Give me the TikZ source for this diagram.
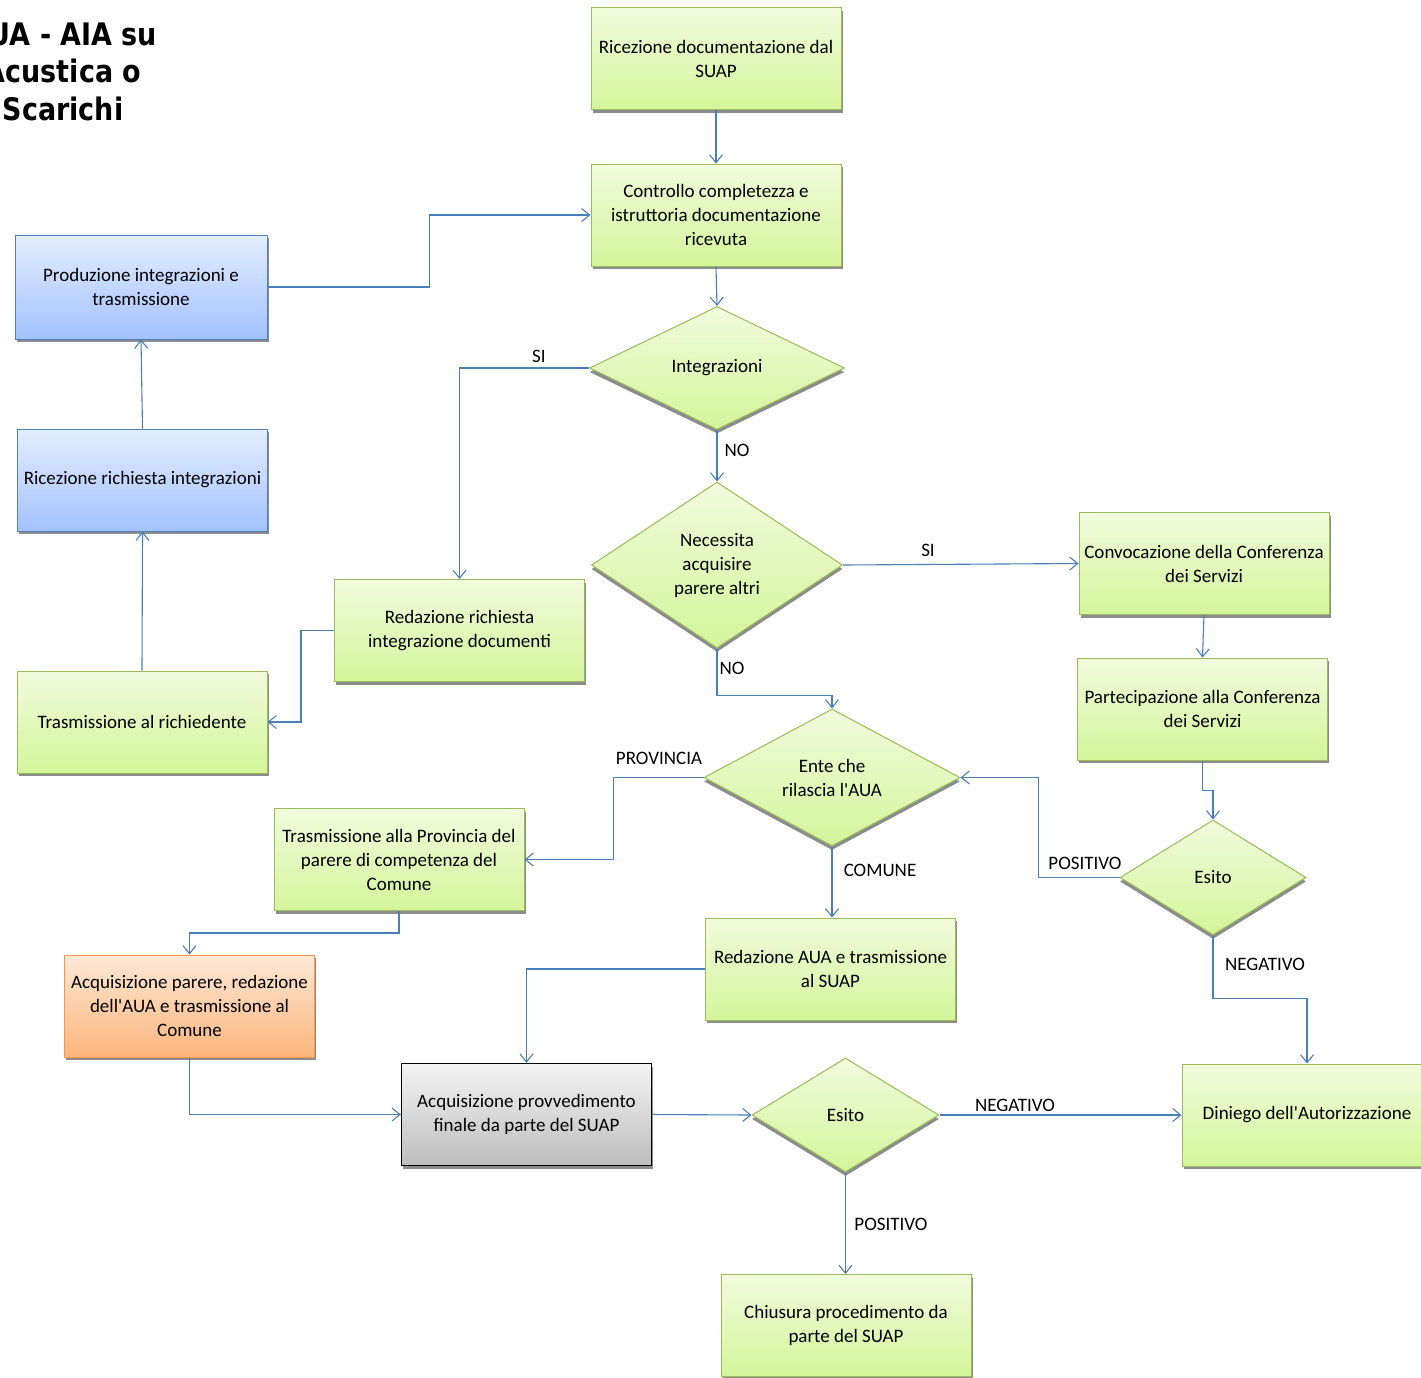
\documentclass[tikz,border=0pt]{standalone}
\usepackage{fontspec}
\setmainfont{Carlito}
\newfontfamily\titlefont[FakeStretch=0.87]{DejaVu Sans}
\usetikzlibrary{shapes.geometric,arrows.meta,shadows,calc}
\definecolor{grnborder}{HTML}{9BBB59}
\definecolor{grntop}{HTML}{F1FBDD}
\definecolor{grnbot}{HTML}{D3F59A}
\definecolor{bluborder}{HTML}{4F81BD}
\definecolor{blutop}{HTML}{E3EDFF}
\definecolor{blubot}{HTML}{A4C2FF}
\definecolor{orgborder}{HTML}{F79646}
\definecolor{orgtop}{HTML}{FDE8D6}
\definecolor{orgbot}{HTML}{FBB57C}
\definecolor{grytop}{HTML}{F4F4F4}
\definecolor{grybot}{HTML}{BDBDBD}
\definecolor{lineblue}{HTML}{4A7EBB}
\definecolor{shadowgray}{HTML}{8C8C8C}
\newcommand{\apo}{\textquotesingle}
\tikzset{
  basebox/.style={rectangle, minimum width=250pt, minimum height=102pt, inner sep=2pt,
    align=center, line width=1pt,
    drop shadow={shadow xshift=1.5pt, shadow yshift=-3pt, fill=shadowgray, opacity=1}},
  greenbox/.style={basebox, draw=grnborder, top color=grntop, bottom color=grnbot},
  bluebox/.style={basebox, draw=bluborder, top color=blutop, bottom color=blubot},
  orangebox/.style={basebox, draw=orgborder, top color=orgtop, bottom color=orgbot},
  graybox/.style={basebox, draw=black, line width=1.3pt, top color=grytop, bottom color=grybot},
  decision/.style={diamond, inner sep=0pt, align=center, draw=grnborder, line width=1pt,
    top color=grntop, bottom color=grnbot,
    drop shadow={shadow xshift=0pt, shadow yshift=-4pt, fill=shadowgray, opacity=1}},
  conn/.style={draw=lineblue, line width=1.1pt, -{Straight Barb[length=8pt,width=13pt]}},
  lbl/.style={inner sep=0pt}
}
\begin{document}
\begin{tikzpicture}[x=1pt,y=-1pt,font=\fontsize{19}{24}\selectfont]
\useasboundingbox (0,0) rectangle (1421,1377);
\fill[white] (0,0) rectangle (1421,1377);

% title
\node[inner sep=0pt, align=center, anchor=base, font=\titlefont\bfseries\fontsize{31}{37.5}\selectfont] (title) at (63,120) {AUA - AIA su\\Acustica o\\Scarichi};

% boxes
\node[greenbox] (ricsuap) at (716,58.5) {Ricezione documentazione dal\\SUAP};
\node[greenbox] (ctrl) at (716,215) {Controllo completezza e\\istruttoria documentazione\\ricevuta};
\node[decision, minimum width=255pt, minimum height=123pt] (integr) at (717,368) {Integrazioni};
\node[decision, minimum width=251pt, minimum height=166pt] (neces) at (717,565) {Necessita\\acquisire\\parere altri};
\node[greenbox] (conv) at (1204,563.5) {Convocazione della Conferenza\\dei Servizi};
\node[greenbox] (part) at (1202.5,709) {Partecipazione alla Conferenza\\dei Servizi};
\node[decision, minimum width=186pt, minimum height=115pt] (esitor) at (1213,877.5) {Esito};
\node[decision, minimum width=256pt, minimum height=129pt] (ente) at (832,777.5) {Ente che\\rilascia l\apo AUA};
\node[greenbox] (tprov) at (399,859.5) {Trasmissione alla Provincia del\\parere di competenza del\\Comune};
\node[greenbox] (redaua) at (830.5,969) {Redazione AUA e trasmissione\\al SUAP};
\node[orangebox] (acqpar) at (189.5,1006) {Acquisizione parere, redazione\\dell\apo AUA e trasmissione al\\Comune};
\node[graybox] (finale) at (526.5,1114.5) {Acquisizione provvedimento\\finale da parte del SUAP};
\node[decision, minimum width=187pt, minimum height=114pt] (esitob) at (845.5,1115) {Esito};
\node[greenbox] (diniego) at (1307,1115) {Diniego dell\apo Autorizzazione};
\node[greenbox] (chius) at (846,1325.5) {Chiusura procedimento da\\parte del SUAP};
\node[greenbox] (redrich) at (459.5,630.5) {Redazione richiesta\\integrazione documenti};
\node[greenbox] (trasm) at (142,722) {Trasmissione al richiedente};
\node[bluebox] (ricint) at (142.5,480) {Ricezione richiesta integrazioni};
\node[bluebox, minimum width=252pt, minimum height=104pt] (prod) at (141,287) {Produzione integrazioni e\\trasmissione};

% connectors
\draw[conn] (ricsuap.south) -- (ctrl.north);
\draw[conn] (ctrl.south) -- (integr.north);
\draw[conn] (prod.east) -- ++(162,0) |- (ctrl.west);
\draw[conn] (integr.west) -| (redrich.north);
\draw[conn] (integr.south) -- (neces.north);
\draw[conn] (neces.east) -- (conv.west);
\draw[conn] (neces.south) -- ++(0,47) -| (ente.north);
\draw[conn] (conv.south) -- (part.north);
\draw[conn] (part.south) -- ++(0,30) -| (esitor.north);
\draw[conn] (esitor.west) -- ++(-81,0) |- (ente.east);
\draw[conn] (esitor.south) -- ++(0,63) -| (diniego.north);
\draw[conn] (ente.west) -- ++(-90,0) |- (tprov.east);
\draw[conn] (ente.south) -- (ente.south |- redaua.north);
\draw[conn] (tprov.south) -- ++(0,22) -| (acqpar.north);
\draw[conn] (redaua.west) -| (finale.north);
\draw[conn] (acqpar.south) |- (finale.west);
\draw[conn] (finale.east) -- (esitob.west);
\draw[conn] (esitob.east) -- (diniego.west);
\draw[conn] (esitob.south) -- (esitob.south |- chius.north);
\draw[conn] (redrich.west) -- ++(-33,0) |- (trasm.east);
\draw[conn] (trasm.north) -- (ricint.south);
\draw[conn] (ricint.north) -- (prod.south);

% labels
\node[lbl] (lsi1) at (539,356) {SI};
\node[lbl] (lno1) at (737,450) {NO};
\node[lbl] (lsi2) at (928,550) {SI};
\node[lbl] (lno2) at (732,668) {NO};
\node[lbl] (lprov) at (659,758) {PROVINCIA};
\node[lbl] (lcom) at (880,870) {COMUNE};
\node[lbl] (lpos1) at (1085,863) {POSITIVO};
\node[lbl] (lneg1) at (1265,964) {NEGATIVO};
\node[lbl] (lneg2) at (1015,1105) {NEGATIVO};
\node[lbl] (lpos2) at (891,1224) {POSITIVO};
\end{tikzpicture}
\end{document}
